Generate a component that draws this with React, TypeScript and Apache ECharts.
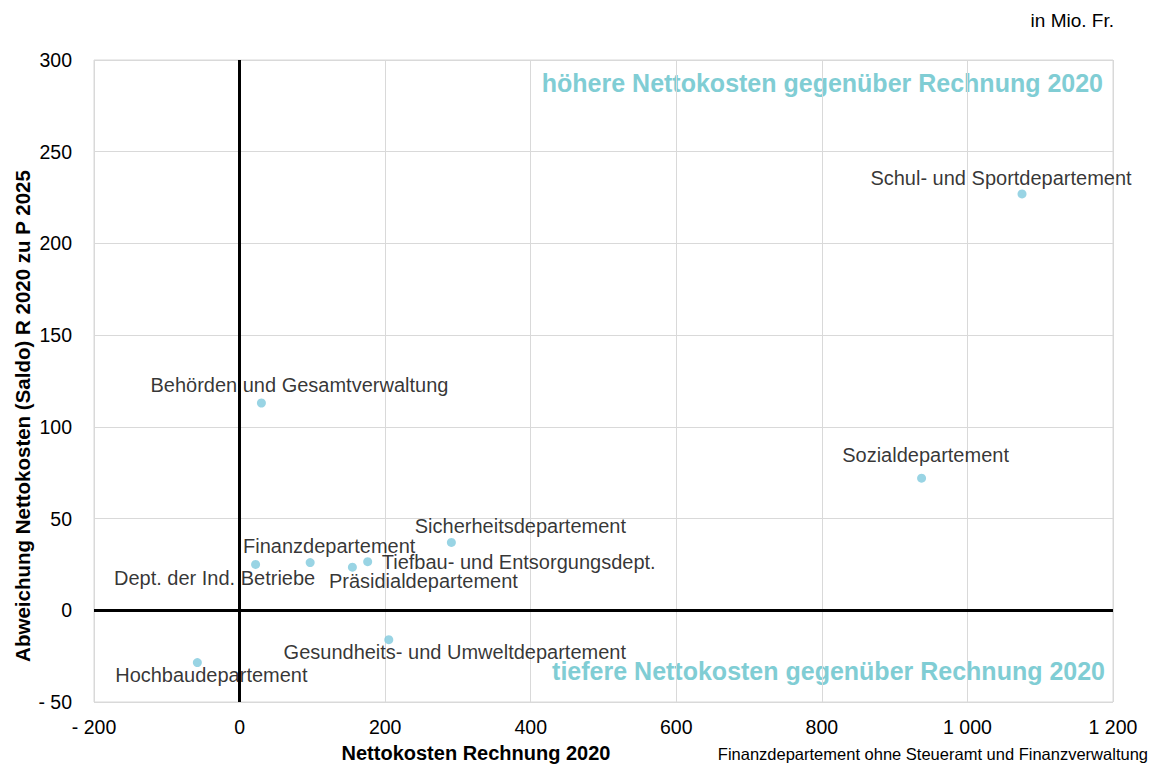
import React, { useEffect, useRef } from "react";
import * as echarts from "echarts";

const departments = [
  "Schul- und Sportdepartement",
  "Sozialdepartement",
  "Behörden und Gesamtverwaltung",
  "Sicherheitsdepartement",
  "Finanzdepartement",
  "Tiefbau- und Entsorgungsdept.",
  "Präsidialdepartement",
  "Dept. der Ind. Betriebe",
  "Gesundheits- und Umweltdepartement",
  "Hochbaudepartement",
];
const nettokostenR2020 = [1075, 937, 30, 291, 97, 176, 155, 22, 205, -58];
const abweichungSaldo = [227, 72, 113, 37, 26, 26.5, 23.5, 25, -16, -28.5];

// label placement (pixel offsets from the point, style only)
const labelOffsets: number[][] = [
  [-21, -16],
  [4, -23],
  [38, -18],
  [69, -16],
  [19, -17],
  [151, 0],
  [71, 14],
  [-41, 14],
  [66, 12],
  [14, 12],
];

const xTitle = "Nettokosten Rechnung 2020";
const yTitle = "Abweichung Nettokosten (Saldo) R 2020 zu P 2025";
const upperNote = "höhere Nettokosten gegenüber Rechnung 2020";
const lowerNote = "tiefere Nettokosten gegenüber Rechnung 2020";
const unitNote = "in Mio. Fr.";
const footNote = "Finanzdepartement ohne Steueramt und Finanzverwaltung";

const FONT = "Liberation Sans, Arial, sans-serif";

function fmt(v: number): string {
  const s = Math.abs(v)
    .toString()
    .replace(/\B(?=(\d{3})+(?!\d))/g, " ");
  return v < 0 ? "- " + s : s;
}

export default function App() {
  const ref = useRef<HTMLDivElement>(null);
  useEffect(() => {
    if (!ref.current) return;
    const chart = echarts.init(ref.current, undefined, { renderer: "svg" });
    const data = departments.map((name, i) => ({
      name,
      value: [nettokostenR2020[i], abweichungSaldo[i]],
      label: {
        show: true,
        formatter: name,
        position: "inside",
        align: "center",
        verticalAlign: "middle",
        offset: labelOffsets[i],
        color: "#000",
        fontSize: 20,
        fontFamily: FONT,
      },
    }));
    chart.setOption({
      animation: false,
      backgroundColor: "#fff",
      grid: {
        left: 94,
        right: 38,
        top: 60,
        bottom: 62,
        show: true,
        borderColor: "#d9d9d9",
        borderWidth: 1,
      },
      xAxis: {
        type: "value",
        min: -200,
        max: 1200,
        interval: 200,
        axisLine: { show: false },
        axisTick: { show: false },
        splitLine: { show: true, lineStyle: { color: "#d9d9d9", width: 1 } },
        axisLabel: {
          formatter: fmt,
          color: "#000",
          fontSize: 19.5,
          fontFamily: FONT,
          margin: 15,
        },
      },
      yAxis: {
        type: "value",
        min: -50,
        max: 300,
        interval: 50,
        axisLine: { show: false },
        axisTick: { show: false },
        splitLine: { show: true, lineStyle: { color: "#d9d9d9", width: 1 } },
        axisLabel: {
          formatter: fmt,
          color: "#000",
          fontSize: 19.5,
          fontFamily: FONT,
          margin: 22,
        },
      },
      graphic: [
        {
          type: "text",
          x: 1114,
          y: 20,
          style: {
            text: unitNote,
            align: "right",
            verticalAlign: "middle",
            fontSize: 19,
            fontFamily: FONT,
            fill: "#000",
          },
        },
        {
          type: "text",
          x: 1103,
          y: 83,
          style: {
            text: upperNote,
            align: "right",
            verticalAlign: "middle",
            fontSize: 25,
            fontWeight: "bold",
            fontFamily: FONT,
            fill: "#80cdd4",
          },
        },
        {
          type: "text",
          x: 1105,
          y: 671,
          style: {
            text: lowerNote,
            align: "right",
            verticalAlign: "middle",
            fontSize: 25,
            fontWeight: "bold",
            fontFamily: FONT,
            fill: "#80cdd4",
          },
        },
        {
          type: "text",
          x: 476,
          y: 753,
          style: {
            text: xTitle,
            align: "center",
            verticalAlign: "middle",
            fontSize: 20,
            fontWeight: "bold",
            fontFamily: FONT,
            fill: "#000",
          },
        },
        {
          type: "text",
          x: 22,
          y: 416,
          rotation: Math.PI / 2,
          style: {
            text: yTitle,
            align: "center",
            verticalAlign: "middle",
            fontSize: 20.5,
            fontWeight: "bold",
            fontFamily: FONT,
            fill: "#000",
          },
        },
        {
          type: "text",
          x: 1148,
          y: 754,
          style: {
            text: footNote,
            align: "right",
            verticalAlign: "middle",
            fontSize: 16.5,
            fontFamily: FONT,
            fill: "#000",
          },
        },
      ],
      series: [
        {
          type: "scatter",
          symbol: "circle",
          symbolSize: 9,
          itemStyle: { color: "#7fc9dd" },
          data,
          markLine: {
            silent: true,
            symbol: "none",
            label: { show: false },
            lineStyle: { color: "#000", width: 3, type: "solid" },
            data: [{ xAxis: 0 }, { yAxis: 0 }],
          },
          z: 5,
        },
      ],
    });
    return () => chart.dispose();
  }, []);
  return (
    <div
      ref={ref}
      style={{ position: "fixed", left: 0, top: 0, width: 1151, height: 764 }}
    />
  );
}
